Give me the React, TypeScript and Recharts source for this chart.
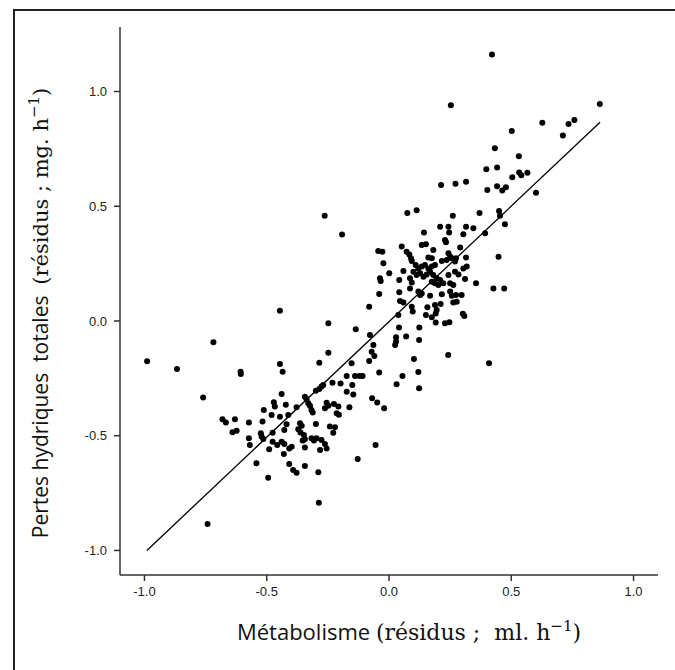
import React from 'react';
import { ScatterChart, Scatter, XAxis, YAxis, ReferenceLine } from 'recharts';

type Pt = [number, number];

// résidus : [métabolisme, pertes hydriques]
const pointsHaut: Pt[] = [
  [0.421, 1.161], [0.253, 0.94], [0.862, 0.946], [0.627, 0.864], [0.758, 0.876],
  [0.734, 0.858], [0.711, 0.808], [0.502, 0.828], [0.433, 0.753], [0.531, 0.718],
  [0.398, 0.661], [0.442, 0.669], [0.504, 0.626], [0.532, 0.647], [0.541, 0.635],
  [0.566, 0.646], [0.213, 0.593], [0.272, 0.598], [0.315, 0.607], [0.402, 0.571],
  [0.442, 0.587], [0.463, 0.569], [0.478, 0.583], [0.601, 0.559], [-0.263, 0.458],
  [0.075, 0.47], [0.113, 0.482], [0.261, 0.458], [0.37, 0.47], [0.45, 0.479],
  [0.454, 0.458], [0.474, 0.421], [0.209, 0.411], [0.243, 0.411], [0.315, 0.411],
  [0.345, 0.404],
];

const pointsCentre: Pt[] = [
  [-0.192, 0.377], [0.143, 0.386], [0.246, 0.386], [0.304, 0.378], [0.393, 0.382],
  [0.229, 0.353], [0.233, 0.343], [0.134, 0.331], [0.151, 0.334], [0.181, 0.309],
  [0.291, 0.32], [0.052, 0.324], [-0.044, 0.305], [-0.027, 0.302], [0.072, 0.302],
  [0.083, 0.29], [0.09, 0.273], [0.093, 0.261], [0.161, 0.277], [0.175, 0.273],
  [0.243, 0.295], [0.25, 0.28], [0.257, 0.273], [0.216, 0.261], [0.236, 0.266],
  [0.274, 0.273], [0.27, 0.259], [0.315, 0.277], [-0.023, 0.251], [0.304, 0.229],
  [0.318, 0.237], [0.001, 0.208], [0.059, 0.218],
  [0.109, 0.244], [0.12, 0.229], [0.134, 0.237], [0.147, 0.244], [0.161, 0.229],
  [0.175, 0.237], [0.188, 0.244], [0.1, 0.215], [0.113, 0.2], [0.127, 0.208],
  [0.141, 0.193], [0.154, 0.203], [0.168, 0.215], [0.181, 0.2], [0.195, 0.186],
  [0.209, 0.179], [0.188, 0.164], [0.175, 0.171], [0.202, 0.157], [0.222, 0.164],
  [0.042, 0.179], [-0.037, 0.186], [-0.034, 0.174], [0.086, 0.186], [0.093, 0.168],
  [0.243, 0.2], [0.27, 0.215], [0.284, 0.203], [0.311, 0.183], [0.25, 0.164],
  [0.263, 0.157], [0.356, 0.164], [0.427, 0.142], [0.448, 0.28], [0.471, 0.142],
  [-0.04, 0.118], [0.042, 0.125], [0.086, 0.142], [0.12, 0.128], [0.127, 0.113],
  [0.134, 0.12], [0.168, 0.11], [0.216, 0.116], [0.25, 0.128], [0.257, 0.11],
  [0.274, 0.113], [0.297, 0.113], [0.045, 0.087], [0.059, 0.081],
];

const pointsMilieu: Pt[] = [
  [-0.081, 0.062], [0.093, 0.062], [0.097, 0.041], [0.157, 0.06], [0.188, 0.07],
  [0.211, 0.074], [0.195, 0.048], [0.151, 0.026], [0.175, 0.016], [0.191, 0.033],
  [0.263, 0.08], [0.277, 0.084], [0.302, 0.031], [0.308, 0.022], [0.191, -0.007],
  [0.229, -0.01], [0.247, -0.006], [0.038, 0.026], [-0.248, -0.01], [-0.136, -0.036],
  [-0.078, -0.061], [0.041, -0.028], [0.124, -0.029], [0.029, -0.071], [0.029, -0.09],
  [0.025, -0.105], [0.07, -0.068], [0.123, -0.083], [-0.064, -0.105], [-0.071, -0.134],
  [-0.06, -0.153], [-0.248, -0.138], [-0.081, -0.174], [0.102, -0.166], [0.242, -0.148],
  [0.409, -0.184], [-0.285, -0.182], [-0.153, -0.184], [-0.446, 0.045], [-0.446, -0.187],
  [-0.989, -0.176], [-0.867, -0.209], [-0.718, -0.093], [-0.606, -0.231],
];

const pointsBas: Pt[] = [
  [-0.04, -0.225], [0.12, -0.222], [0.055, -0.24], [0.031, -0.276], [0.123, -0.293],
  [-0.069, -0.337], [-0.048, -0.355], [-0.02, -0.38], [-0.055, -0.54], [-0.287, -0.792],
  [-0.742, -0.885],
  [-0.607, -0.221], [-0.435, -0.221], [-0.76, -0.333], [-0.173, -0.24], [-0.139, -0.24],
  [-0.121, -0.24], [-0.108, -0.24], [-0.276, -0.286], [-0.269, -0.279], [-0.285, -0.296],
  [-0.299, -0.304], [-0.231, -0.269], [-0.198, -0.272], [-0.15, -0.279], [-0.173, -0.308],
  [-0.146, -0.32], [-0.439, -0.318], [-0.344, -0.33], [-0.337, -0.341], [-0.33, -0.359],
  [-0.471, -0.354], [-0.467, -0.373], [-0.422, -0.365], [-0.378, -0.376], [-0.323, -0.37],
  [-0.317, -0.388], [-0.312, -0.399], [-0.255, -0.356], [-0.248, -0.37], [-0.262, -0.38],
  [-0.225, -0.362], [-0.207, -0.373], [-0.214, -0.402], [-0.205, -0.409], [-0.162, -0.376],
  [-0.512, -0.388], [-0.48, -0.41], [-0.446, -0.417], [-0.412, -0.41], [-0.681, -0.428],
  [-0.667, -0.443], [-0.63, -0.428], [-0.573, -0.443], [-0.517, -0.438], [-0.419, -0.45],
  [-0.364, -0.446], [-0.357, -0.457], [-0.371, -0.472], [-0.362, -0.486], [-0.348, -0.497],
  [-0.299, -0.449], [-0.242, -0.46], [-0.221, -0.463], [-0.228, -0.487], [-0.64, -0.485],
  [-0.623, -0.478], [-0.524, -0.489], [-0.521, -0.504], [-0.514, -0.514], [-0.476, -0.487],
  [-0.428, -0.475], [-0.573, -0.511], [-0.569, -0.54], [-0.476, -0.526], [-0.457, -0.54],
  [-0.439, -0.526], [-0.428, -0.536], [-0.398, -0.548], [-0.408, -0.556], [-0.49, -0.559],
  [-0.353, -0.521], [-0.344, -0.515], [-0.317, -0.511], [-0.307, -0.521], [-0.296, -0.511],
  [-0.276, -0.519], [-0.262, -0.536], [-0.255, -0.556], [-0.282, -0.562], [-0.344, -0.551],
  [-0.43, -0.58], [-0.542, -0.62], [-0.408, -0.623], [-0.392, -0.649], [-0.378, -0.661],
  [-0.344, -0.632], [-0.289, -0.659], [-0.494, -0.683], [-0.128, -0.601],
];

const regression = [
  { x: -0.99, y: -1.0 },
  { x: 0.863, y: 0.866 },
];

const xTicks = [-1, -0.5, 0, 0.5, 1];
const yTicks = [-1, -0.5, 0, 0.5, 1];

const data = [...pointsHaut, ...pointsCentre, ...pointsMilieu, ...pointsBas].map(([x, y]) => ({ x, y }));

const Dot = (props: any) => <circle cx={props.cx} cy={props.cy} r={3} fill="#000" />;

const tickStyle = { fill: '#222', fontSize: 13, fontFamily: 'Liberation Sans, Arial, sans-serif' };
const axisStyle = { stroke: '#333', strokeWidth: 1.5 };

export default function App() {
  return (
    <div style={{ position: 'absolute', left: 0, top: 0, width: 675, height: 670, background: '#fff', overflow: 'hidden' }}>
      <div
        style={{
          position: 'absolute',
          left: 13,
          top: 9,
          width: 700,
          height: 700,
          borderLeft: '2px solid #222',
          borderTop: '2px solid #222',
        }}
      />
      <ScatterChart width={675} height={670} margin={{ top: 27, right: 17, bottom: 55, left: 0 }}>
        <XAxis
          type="number"
          dataKey="x"
          domain={[-1.1, 1.1]}
          ticks={xTicks}
          tickFormatter={(v: number) => v.toFixed(1)}
          height={40}
          tick={tickStyle}
          axisLine={axisStyle}
          tickLine={axisStyle}
          tickSize={6}
          tickMargin={6}
          allowDataOverflow
        />
        <YAxis
          type="number"
          dataKey="y"
          domain={[-1.107, 1.281]}
          ticks={yTicks}
          tickFormatter={(v: number) => v.toFixed(1)}
          width={120}
          tick={tickStyle}
          axisLine={axisStyle}
          tickLine={axisStyle}
          tickSize={6}
          tickMargin={7}
          allowDataOverflow
        />
        <ReferenceLine segment={regression} stroke="#000" strokeWidth={1.3} />
        <Scatter data={data} shape={Dot} isAnimationActive={false} />
      </ScatterChart>
      <svg width={675} height={670} style={{ position: 'absolute', left: 0, top: 0, pointerEvents: 'none' }}>
        <text x={409} y={640} textAnchor="middle" fontSize={22} fill="#111" style={{ whiteSpace: 'pre' }}>
          <tspan fontFamily="Open Sans">Métabolisme </tspan>
          <tspan fontFamily="DejaVu Serif" fontSize={22}>(résidus ;  ml. h</tspan>
          <tspan fontFamily="DejaVu Serif" fontSize={15} dy={-9}>−1</tspan>
          <tspan fontFamily="DejaVu Serif" fontSize={22} dy={9}>)</tspan>
        </text>
        <text
          x={48}
          y={313}
          textAnchor="middle"
          fontSize={21}
          fill="#111"
          transform="rotate(-90, 48, 313)"
          style={{ whiteSpace: 'pre' }}
        >
          <tspan fontFamily="Open Sans">Pertes hydriques  totales  </tspan>
          <tspan fontFamily="DejaVu Serif" fontSize={21}>(résidus ; mg. h</tspan>
          <tspan fontFamily="DejaVu Serif" fontSize={15} dy={-9}>−1</tspan>
          <tspan fontFamily="DejaVu Serif" fontSize={21} dy={9}>)</tspan>
        </text>
      </svg>
    </div>
  );
}
